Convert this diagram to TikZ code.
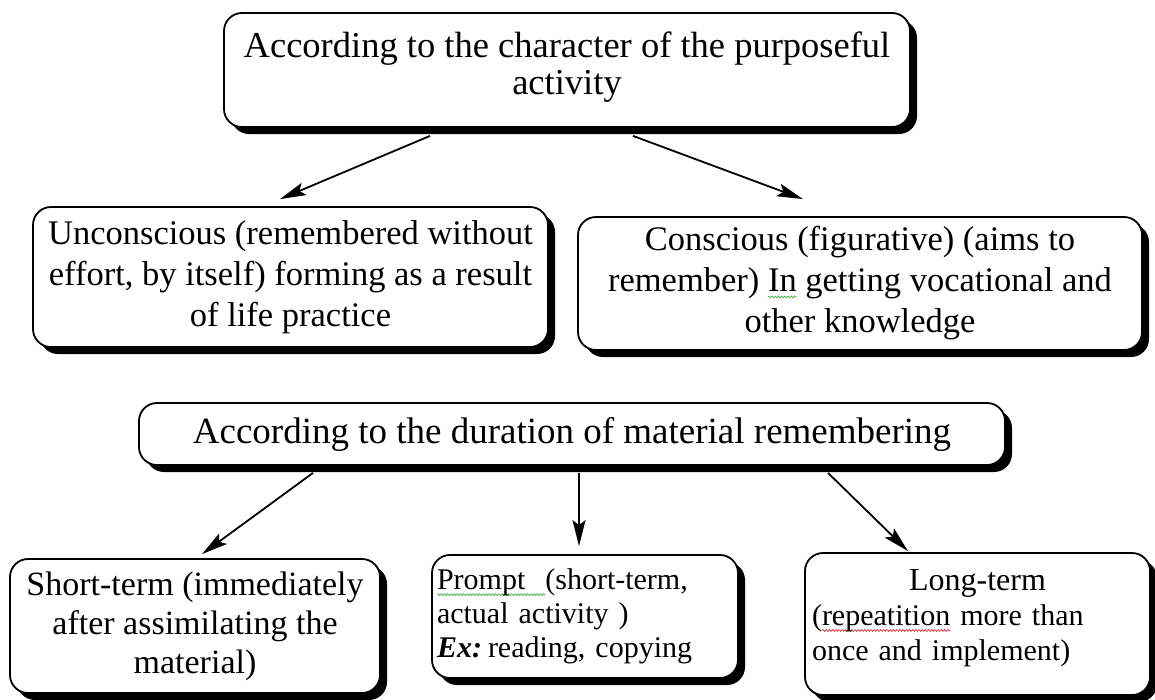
\documentclass[tikz,border=0pt]{standalone}
\usepackage{fontspec}
\setmainfont{Liberation Serif}
\usetikzlibrary{shadows,arrows.meta,calc,decorations.pathmorphing}
\definecolor{wavegreen}{RGB}{70,170,70}
\definecolor{wavered}{RGB}{215,50,50}
\newsavebox\wavebox
\newlength\wavelen
\newcommand\wavy[2]{\sbox\wavebox{#2}\setlength\wavelen{\wd\wavebox}%
  \tikz[overlay,baseline=0pt]\draw[sharp corners, draw=#1, line width=0.7pt, decorate,
    decoration={snake, amplitude=0.9pt, segment length=3.2pt}]
    (0pt,-5pt) -- (\wavelen,-5pt);\usebox\wavebox}
\tikzset{
  box/.style={draw, line width=1.8pt, rounded corners=18pt, fill=white,
    drop shadow={shadow xshift=7pt, shadow yshift=-7pt, fill=black, opacity=1},
    inner sep=0pt, align=center},
  arr/.style={line width=1.8pt, -{Stealth[length=26pt, width=13pt, inset=5pt]}},
}
\begin{document}
\begin{tikzpicture}[x=1pt, y=-1pt]
\useasboundingbox (0,0) rectangle (1155,699);
\node[box, minimum width=686pt, minimum height=114pt,
  font=\fontsize{36.5}{37.5}\selectfont] (top) at (567,70)
  {According to the character of the purposeful\\activity\rule[-14pt]{0pt}{1pt}};
\node[box, minimum width=515pt, minimum height=140pt,
  font=\fontsize{34.5}{41}\selectfont] (uncon) at (290.5,277)
  {Unconscious (remembered without\\effort, by itself) forming as a result\\of life practice};
\node[box, minimum width=564pt, minimum height=133pt,
  font=\fontsize{34.5}{41}\selectfont] (cons) at (860,283.5)
  {Conscious (figurative) (aims to\\remember) \wavy{wavegreen}{In} getting vocational and\\other knowledge};
\node[box, minimum width=866pt, minimum height=62pt,
  font=\fontsize{37}{40}\selectfont] (dur) at (572,434)
  {According to the duration of material remembering};
\node[box, minimum width=370pt, minimum height=134pt,
  font=\fontsize{34}{39}\selectfont] (short) at (195,626)
  {Short-term (immediately\\after assimilating the\\material)};
\node[box, minimum width=306pt, minimum height=123pt, align=left,
  text width=296pt, font=\fontsize{30}{34}\selectfont] (prompt) at (585,616.5)
  {\wavy{wavegreen}{Prompt\ \ }(short-term,\\actual activity\ )\\\textbf{\textit{Ex:}}\hspace{6pt}reading, copying};
\node[box, minimum width=345pt, minimum height=142pt, align=left,
  text width=331pt, font=\fontsize{30}{35}\selectfont] (long) at (977.5,624)
  {\makebox[\linewidth][c]{\fontsize{32}{35}\selectfont Long-term}\\(\wavy{wavered}{repeatition} more than\\once and implement)\rule[-18pt]{0pt}{1pt}};
\draw[arr] ([xshift=-137pt,yshift=-8pt]top.south) -- ([xshift=-10.5pt,yshift=7pt]uncon.north);
\draw[arr] ([xshift=66pt,yshift=-8pt]top.south) -- ([xshift=-57pt,yshift=17pt]cons.north);
\draw[arr] ([xshift=-259pt,yshift=-7pt]dur.south) -- ([xshift=7pt,yshift=4pt]short.north);
\draw[arr] ([xshift=7pt,yshift=-7pt]dur.south) -- ([xshift=-6pt,yshift=8pt]prompt.north);
\draw[arr] ([xshift=256pt,yshift=-7pt]dur.south) -- ([xshift=-69.5pt,yshift=1pt]long.north);
\end{tikzpicture}
\end{document}
